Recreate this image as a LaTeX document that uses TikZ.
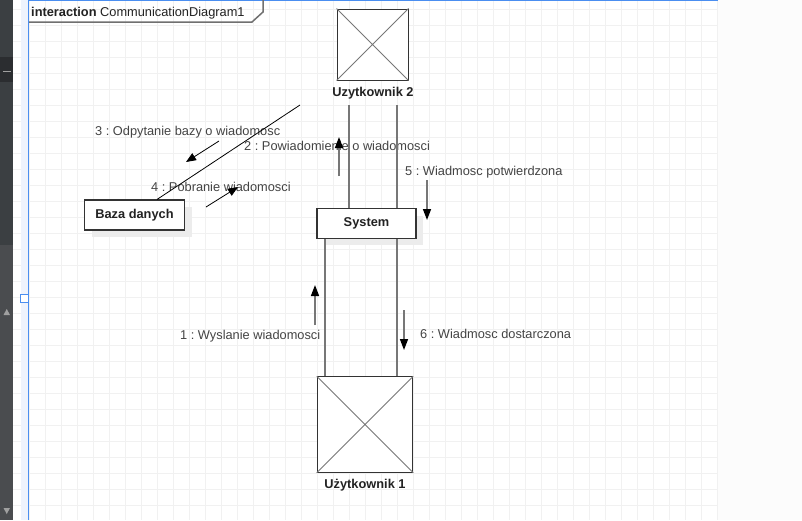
\documentclass[tikz,border=0pt]{standalone}
\usepackage{fontspec}
\setmainfont{Liberation Sans}
\frenchspacing
\usetikzlibrary{arrows.meta,positioning,shadows}
\definecolor{panel}{HTML}{3B3F42}
\definecolor{paneldark}{HTML}{2B2D30}
\definecolor{panellow}{HTML}{4A4C4F}
\definecolor{paneltxt}{HTML}{A0A0A0}
\definecolor{gridcol}{HTML}{F1F1F1}
\definecolor{stripblue}{HTML}{EEF3FD}
\definecolor{edgeblue}{HTML}{4A8EF0}
\definecolor{framegray}{HTML}{707070}
\definecolor{boxline}{HTML}{333333}
\definecolor{linkgray}{HTML}{777777}
\definecolor{labelgray}{HTML}{444444}
\definecolor{namecol}{HTML}{222222}
\definecolor{shadowgray}{HTML}{ECECEC}
\begin{document}
\begin{tikzpicture}[x=1pt,y=-1pt,
 every node/.style={font=\fontsize{12.8}{15}\selectfont,inner sep=0pt},
 actor/.style={draw=boxline,line width=1pt,fill=white,minimum size=#1},
 cross/.style={draw=linkgray,line width=0.8pt},
 objbox/.style={draw=boxline,line width=1.1pt,fill=white,minimum width=#1,minimum height=29.5pt,
  font=\fontsize{12.8}{15}\selectfont\bfseries,text=namecol,
  drop shadow={shadow xshift=7pt,shadow yshift=-7pt,opacity=1,fill=shadowgray}},
 objlabel/.style={font=\fontsize{12.8}{15}\selectfont\bfseries,text=namecol,anchor=base},
 lbl/.style={text=labelgray,anchor=base west},
 link/.style={draw=linkgray,line width=1.5pt},
 msg/.style={draw=linkgray,line width=1.5pt,-{Triangle[length=11pt,width=8pt,color=black]}},
 msgthin/.style={black,line width=0.8pt,-{Triangle[length=10pt,width=8pt]}}]
\useasboundingbox (0,0) rectangle (802,520);
% editor background
\fill[white!99!black] (0,0) rectangle (802,520);
\fill[white] (13,0) rectangle (718,520);
\foreach \gx in {29.3,45.3,...,718} \draw[gridcol] (\gx,0) -- (\gx,520);
\foreach \gy in {9.3,25.3,...,520} \draw[gridcol] (13,\gy) -- (718,\gy);
\fill[stripblue] (21,0) rectangle (28,520);
\draw[edgeblue,line width=1.5pt] (28.7,520) -- (28.7,0.7) -- (718,0.7);
\draw[edgeblue,fill=white,line width=0.8pt] (20.7,294) rectangle (28,302);
% side panel
\fill[panel] (0,0) rectangle (13,520);
\fill[paneldark] (0,57) rectangle (13,82);
\draw[paneltxt,line width=1pt] (3,71) -- (10.5,71);
\fill[panellow] (0,245) rectangle (13,520);
\fill[paneltxt] (3.5,315) -- (10,315) -- (6.75,309) -- cycle;
\fill[paneltxt] (3.5,508) -- (10,508) -- (6.75,514) -- cycle;
% frame label
\node[anchor=base west,text=namecol] (frm) at (31,16.7) {\textbf{interaction} CommunicationDiagram1};
\draw[framegray,line width=1.5pt] (29,22) -- (252,22) -- (263,12) -- (263,0);
% objects
\node[actor=71pt] (u2) at (372.5,44.5) {};
\draw[cross] (u2.north west) -- (u2.south east) (u2.north east) -- (u2.south west);
\node[objlabel] (u2lbl) at (373,96.7) {Uzytkownik 2};
\node[objbox=99pt] (sys) at (366.5,223.5) {System};
\node[actor=95.5pt] (u1) at (365,424.5) {};
\draw[cross] (u1.north west) -- (u1.south east) (u1.north east) -- (u1.south west);
\node[objlabel] (u1lbl) at (365,488) {Użytkownik 1};
\node[objbox=100pt,minimum height=30pt] (baza) at (134.5,215) {Baza danych};
% message labels
\node[lbl] (t1) at (180,339) {1 : Wyslanie wiadomosci};
\node[lbl] (t2) at (244,150) {2 : Powiadomienie o wiadomosci};
\node[lbl] (t3) at (95,135.5) {3 : Odpytanie bazy o wiadomosc};
\node[lbl] (t4) at (151,191.7) {4 : Pobranie wiadomosci};
\node[lbl] (t5) at (405,175) {5 : Wiadmosc potwierdzona};
\node[lbl] (t6) at (420,338) {6 : Wiadmosc dostarczona};
% links
\coordinate (l2a) at (349,105);
\coordinate (l2b) at (397,105);
\draw[link] (l2a) -- (l2a |- sys.north);
\draw[link] (l2b) -- (l2b |- sys.north);
\coordinate (l1a) at (325,0);
\coordinate (l1b) at (397,0);
\draw[link] (sys.south -| l1a) -- (u1.north -| l1a);
\draw[link] (sys.south -| l1b) -- (u1.north -| l1b);
\coordinate (dbend) at (300,105);
\draw[black,line width=0.8pt] ([xshift=22.5pt]baza.north) -- (dbend);
% messages
\coordinate (m1s) at (315,325); \coordinate (m1e) at (315,285);
\coordinate (m2s) at (339,176); \coordinate (m2e) at (339,137);
\coordinate (m3s) at (219,141); \coordinate (m3e) at (186,162);
\coordinate (m4s) at (206,207); \coordinate (m4e) at (238,187);
\coordinate (m5s) at (427,180); \coordinate (m5e) at (427,220);
\coordinate (m6s) at (404,310); \coordinate (m6e) at (404,350);
\draw[msg] (m1s) -- (m1e);
\draw[msg] (m2s) -- (m2e);
\draw[msgthin] (m3s) -- (m3e);
\draw[msgthin] (m4s) -- (m4e);
\draw[msg] (m5s) -- (m5e);
\draw[msg] (m6s) -- (m6e);
\end{tikzpicture}
\end{document}
